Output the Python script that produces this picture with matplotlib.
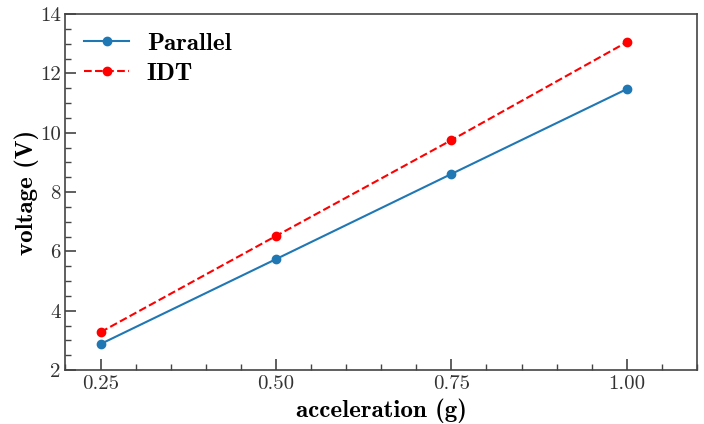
import matplotlib
matplotlib.use("Agg")
import matplotlib.pyplot as plt
from matplotlib.ticker import MultipleLocator

plt.rcParams['mathtext.fontset'] = 'cm'
plt.rcParams['font.family'] = 'cmr10'
plt.rcParams['axes.formatter.use_mathtext'] = True

acceleration = [0.25, 0.50, 0.75, 1.00]
parallel = [2.88, 5.74, 8.61, 11.47]
idt = [3.28, 6.52, 9.75, 13.05]
xticks = [0.25, 0.50, 0.75, 1.00]
xticklabels = ['0.25', '0.50', '0.75', '1.00']
yticks = [2, 4, 6, 8, 10, 12, 14]

fig = plt.figure(figsize=(7.04, 4.24), dpi=100)
ax = fig.add_axes([0.093, 0.127, 0.897, 0.84])

ax.plot(acceleration, parallel, '-o', color='#1f77b4', lw=1.5, ms=6,
        label='Parallel')
ax.plot(acceleration, idt, '--o', color='red', lw=1.5, ms=6,
        label='IDT')

ax.set_xlim(0.2, 1.1)
ax.set_ylim(2, 14)
ax.set_xticks(xticks)
ax.set_xticklabels(xticklabels)
ax.set_yticks(yticks)
ax.set_yticklabels([str(v) for v in yticks])
ax.xaxis.set_minor_locator(MultipleLocator(0.05))
ax.yaxis.set_minor_locator(MultipleLocator(0.5))
ax.tick_params(which='both', direction='in', top=False, right=False, labelsize=15, colors='#444444', labelcolor='#333333')
ax.tick_params(which='major', length=8, width=1.2)
ax.tick_params(which='minor', length=4, width=1.0)
for s in ax.spines.values():
    s.set_color('#444444')
    s.set_linewidth(1.2)

ax.set_xlabel('acceleration (g)', family='cmb10', fontsize=18, labelpad=4)
ax.set_ylabel('voltage (V)', family='cmb10', fontsize=18, labelpad=0.5)

ax.legend(loc='upper left', frameon=False, prop={'family': 'cmb10', 'size': 18},
          handlelength=1.8, handletextpad=0.7, borderaxespad=0.35, labelspacing=0.3)

fig.savefig('out.png', dpi=100)
